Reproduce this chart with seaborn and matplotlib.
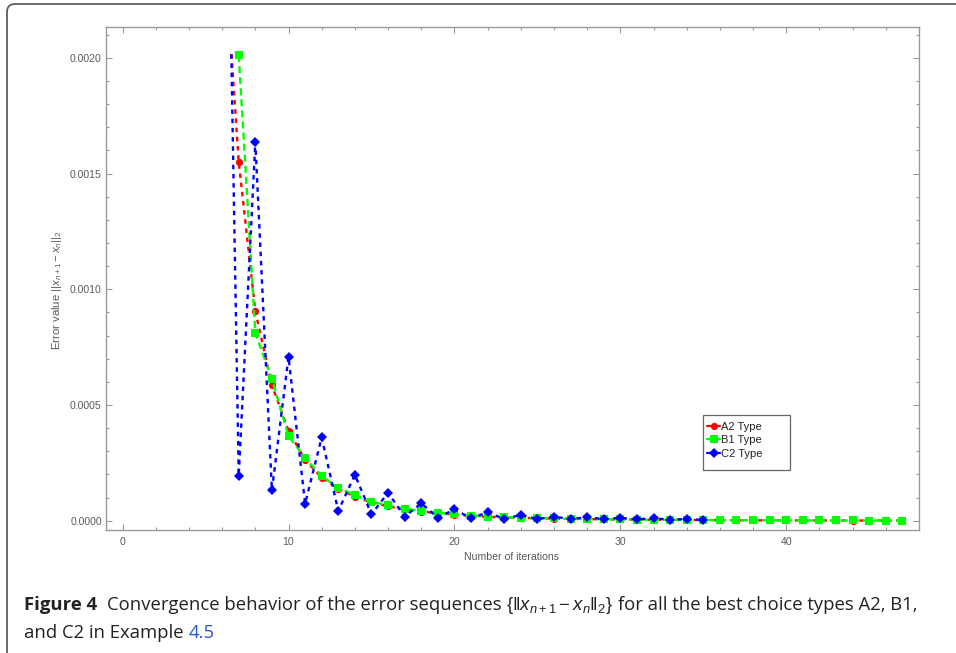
import matplotlib
matplotlib.use("Agg")
import matplotlib.pyplot as plt
import seaborn as sns
import pandas as pd
from matplotlib import font_manager
from matplotlib.lines import Line2D
from matplotlib.patches import Rectangle, FancyBboxPatch
from matplotlib.ticker import MultipleLocator, FixedLocator, FormatStrFormatter

# ---------------- data ----------------
series_names = ["A2 Type", "B1 Type", "C2 Type"]
series_colors = ["#FF0000", "#00FF00", "#0000FF"]

a2_iter = list(range(6, 48))
a2_err = [0.00262, 0.00155, 0.000905, 0.000585, 0.000389, 0.000263, 0.000186,
          0.000137, 0.000104, 0.0000790, 0.0000620, 0.0000490, 0.0000395,
          0.0000325, 0.0000262, 0.0000208, 0.0000168, 0.0000142, 0.0000122,
          0.0000104, 0.0000090, 0.0000078, 0.0000069, 0.0000060, 0.0000052,
          0.0000046, 0.0000040, 0.0000035, 0.0000031, 0.0000027, 0.0000024,
          0.0000021, 0.0000018, 0.0000016, 0.0000014, 0.0000012, 0.0000011,
          0.0000009, 0.0000008, 0.0000007, 0.0000006, 0.0000005]

b1_iter = list(range(7, 48))
b1_err = [0.002012, 0.000810, 0.000613, 0.000366, 0.000271, 0.000193, 0.000143,
          0.000110, 0.0000820, 0.0000665, 0.0000518, 0.0000419, 0.0000346,
          0.0000276, 0.0000216, 0.0000173, 0.0000150, 0.0000130, 0.0000110,
          0.0000095, 0.0000082, 0.0000072, 0.0000063, 0.0000055, 0.0000048,
          0.0000042, 0.0000037, 0.0000032, 0.0000028, 0.0000025, 0.0000022,
          0.0000019, 0.0000017, 0.0000015, 0.0000013, 0.0000011, 0.0000010,
          0.0000009, 0.0000008, 0.0000007, 0.0000006]

c2_iter = list(range(6, 36))
c2_err = [0.00427, 0.000194, 0.001636, 0.000131, 0.000708, 0.0000734, 0.000360,
          0.0000419, 0.000199, 0.0000276, 0.000121, 0.0000173, 0.0000752,
          0.0000130, 0.0000492, 0.0000104, 0.0000363, 0.0000073, 0.0000246,
          0.0000073, 0.0000173, 0.0000073, 0.0000147, 0.0000073, 0.0000117,
          0.0000060, 0.0000104, 0.0000043, 0.0000073, 0.0000030]

x_ticks = [0, 10, 20, 30, 40]
y_ticks = [0.0, 0.0005, 0.0010, 0.0015, 0.0020]
x_label = "Number of iterations"
y_label = r"Error value $||x_{n+1}-x_n||_2$"

# ---------------- style ----------------
sns.set_theme(style="white")
plt.rcParams["font.family"] = ["Liberation Sans", "DejaVu Sans"]
plt.rcParams["mathtext.fontset"] = "custom"
plt.rcParams["mathtext.rm"] = "Liberation Sans"
plt.rcParams["mathtext.it"] = "Liberation Sans:italic"
plt.rcParams["mathtext.bf"] = "Liberation Sans:bold"

W, H = 956, 653
fig = plt.figure(figsize=(W / 100, H / 100), dpi=100)
fig.patch.set_facecolor("white")

# outer rounded frame (partially off-canvas)
frame = FancyBboxPatch((0.07, -0.2), 10.0, 6.49 + 0.2,
                       boxstyle="round,pad=0,rounding_size=0.08",
                       transform=fig.dpi_scale_trans, facecolor="none",
                       edgecolor="#5e5e5e", linewidth=1.3, zorder=0)
fig.patches.append(frame)

ax = fig.add_axes([106 / W, 1 - 530 / H, 813 / W, 503 / H])

df = pd.concat([
    pd.DataFrame({"iter": a2_iter, "err": a2_err, "type": series_names[0]}),
    pd.DataFrame({"iter": b1_iter, "err": b1_err, "type": series_names[1]}),
    pd.DataFrame({"iter": c2_iter, "err": c2_err, "type": series_names[2]}),
], ignore_index=True)

palette = dict(zip(series_names, series_colors))
marker_kinds = ["o", "s", "D"]
markers = dict(zip(series_names, marker_kinds))
dashes = dict(zip(series_names, [(1.9, 2.0), (3.0, 1.7), (1.9, 2.0)]))

sns.lineplot(data=df, x="iter", y="err", hue="type", style="type",
             hue_order=series_names, style_order=series_names,
             palette=palette, markers=markers, dashes=dashes,
             linewidth=1.7, markeredgewidth=0, legend=False, ax=ax,
             estimator=None, sort=False)

msizes = [5.2, 5.4, 4.8]
clip = Rectangle((-5, -1), 100, 1 + 0.00203, transform=ax.transData)
for ln, ms, z in zip(ax.lines, msizes, [2, 3, 4]):
    ln.set_markersize(ms)
    ln.set_clip_path(clip)
    ln.set_zorder(z)

ax.set_xlim(-1.0, 48.0)
ax.set_ylim(-0.0000402, 0.002133)
ax.set_xlabel("")
ax.set_ylabel("")

ax.xaxis.set_major_locator(FixedLocator(x_ticks))
ax.xaxis.set_minor_locator(MultipleLocator(2))
ax.yaxis.set_major_locator(FixedLocator(y_ticks))
ax.yaxis.set_minor_locator(MultipleLocator(0.0001))
ax.yaxis.set_major_formatter(FormatStrFormatter("%.4f"))
ax.xaxis.set_major_formatter(FormatStrFormatter("%d"))

spine_c = "#9a9a9a"
for s in ax.spines.values():
    s.set_color(spine_c)
    s.set_linewidth(1.0)
ax.tick_params(which="both", direction="in", top=True, right=True,
               bottom=True, left=True, color=spine_c, width=0.8,
               labelcolor="#5a5a5a", labelsize=7.6)
ax.tick_params(which="major", length=4.0, pad=3)
ax.tick_params(which="minor", length=2.3)
ax.tick_params(axis="x", which="major", pad=5)

fig.text(512 / W, 1 - 557 / H, x_label, ha="center", va="center",
         fontsize=7.6, color="#5a5a5a")
fig.text(57 / W, 1 - 290 / H, y_label, ha="center", va="center",
         rotation=90, fontsize=8.2, color="#5a5a5a")

# legend: box drawn separately to keep the wide right margin of the original
box_l, box_t, box_r, box_b = 702.5, 414.5, 789.5, 469.5
ax.add_patch(Rectangle(((box_l - 106) / 813, (530 - box_b) / 503),
                       (box_r - box_l) / 813, (box_b - box_t) / 503,
                       transform=ax.transAxes, facecolor="white",
                       edgecolor="#666666", linewidth=0.9, zorder=6))
handles = [Line2D([0], [0], color=c, marker=m, markersize=ms, lw=1.6,
                  markeredgewidth=0)
           for c, m, ms in zip(series_colors, marker_kinds, msizes)]
leg = ax.legend(handles, series_names, loc="upper left",
                bbox_to_anchor=((707 - 106) / 813, (530 - 421.5) / 503),
                borderaxespad=0, fontsize=8.0, frameon=False,
                handlelength=1.2, handletextpad=0.05, labelspacing=0.33,
                borderpad=0.0)
leg.set_zorder(7)
for t in leg.get_texts():
    t.set_color("#222222")

# ---------------- caption ----------------
names = {f.name for f in font_manager.fontManager.ttflist}
cap_font = "Liberation Sans Narrow" if "Liberation Sans Narrow" in names else "Open Sans"
cap_color = "#222222"
renderer = fig.canvas.get_renderer()

line1 = [("Figure 4", dict(fontweight="bold")), (None, 2.0),
         ("Convergence behavior of the error sequences", {}), (None, 1.0),
         (r"$\{\Vert x_{n+1} - x_n\Vert_2\}$", {}), (None, 1.0),
         ("for all the best choice types A2, B1,", {})]
line2 = [("and C2 in Example", {}), (None, 1.0),
         ("4.5", dict(color="#2a52d4"))]


def draw_pieces(pieces, x_px, y_px, size):
    probe_a = fig.text(0, 0, "x x", fontsize=size, family=cap_font)
    probe_b = fig.text(0, 0, "xx", fontsize=size, family=cap_font)
    sp = (probe_a.get_window_extent(renderer).width
          - probe_b.get_window_extent(renderer).width)
    probe_a.remove()
    probe_b.remove()
    x = x_px
    made = []
    for s, kw in pieces:
        if s is None:
            x += sp * kw
            continue
        opts = dict(fontsize=size, family=cap_font, color=cap_color,
                    ha="left", va="baseline")
        opts.update(kw)
        t = fig.text(x / W, 1 - y_px / H, s, **opts)
        x += t.get_window_extent(renderer).width
        made.append(t)
    return x - x_px, made


size0 = 11.0
w0, made = draw_pieces(line1, 24, 610, size0)
for t in made:
    t.remove()
size = size0 * (918 - 24) / w0
draw_pieces(line1, 24, 610, size)
draw_pieces(line2, 24, 638, size)

fig.savefig("out.png", dpi=100, facecolor="white")
